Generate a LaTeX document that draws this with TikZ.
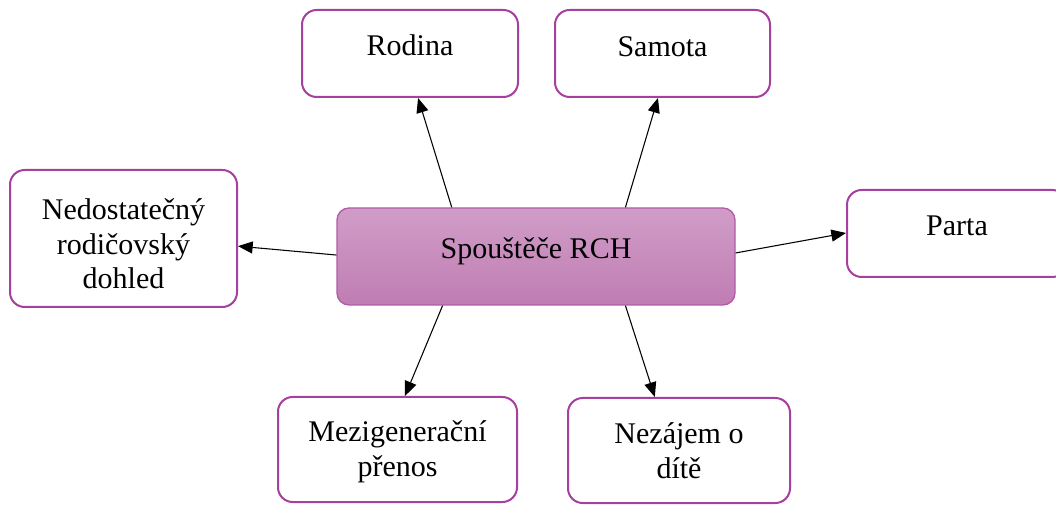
\documentclass[tikz,border=0pt]{standalone}
\usepackage{fontspec}
\setmainfont{Liberation Serif}
\usetikzlibrary{arrows.meta,calc}
\definecolor{boxborder}{HTML}{A5409F}
\definecolor{ctop}{HTML}{D09DC7}
\definecolor{cbot}{HTML}{C07DB3}
\definecolor{cborder}{HTML}{B25AA9}
\begin{document}
\begin{tikzpicture}[x=0.75pt,y=-0.75pt,
  sz/.style 2 args={minimum width=#1*0.75pt, minimum height=#2*0.75pt, inner sep=0pt},
  outerbox/.style={draw=boxborder, line width=1.5pt, rounded corners=11pt, fill=white},
  centerbox/.style={draw=cborder, line width=1pt, rounded corners=9pt, top color=ctop, bottom color=cbot},
  lbl/.style={font=\fontsize{22.5}{26}\selectfont, align=center, inner sep=0pt, text=black},
  conn/.style={line width=0.8pt, draw=black, -{Triangle[length=11pt,width=9pt]}}]
\useasboundingbox (0,0) rectangle (1056,505);
% boxes
\node[outerbox, sz={216}{87}] (rodina) at (410,53.5) {};
\node[outerbox, sz={215}{87}] (samota) at (662.5,53.5) {};
\node[outerbox, sz={227}{137}] (nedost) at (123.5,238.5) {};
\node[outerbox, sz={220}{87}] (parta) at (957,233.5) {};
\node[centerbox, sz={398}{97}] (spoustece) at (536,256.5) {};
\node[outerbox, sz={239}{105}] (mezi) at (397.5,449.5) {};
\node[outerbox, sz={222}{105}] (nezajem) at (679,450.5) {};
% texts
\node[lbl, anchor=base] (trodina) at (410,55.5) {Rodina};
\node[lbl, anchor=base] (tsamota) at (662.5,56.5) {Samota};
\node[lbl, anchor=base] (tparta) at (957,235.5) {Parta};
\node[lbl, anchor=base] (tspoustece) at (536,258.5) {Spouštěče RCH};
\node[lbl] (tnedost) at (123.5,244) {Nedostatečný\\rodičovský\\dohled};
\node[lbl] (tmezi) at (397.5,451.5) {Mezigenerační\\přenos};
\node[lbl] (tnezajem) at (679,450.5) {Nezájem o\\dítě};
% connectors
\draw[conn] ($(spoustece.north west)!0.289!(spoustece.north east)$) -- ($(rodina.south west)!0.537!(rodina.south east)$);
\draw[conn] ($(spoustece.north west)!0.724!(spoustece.north east)$) -- ($(samota.south west)!0.479!(samota.south east)$);
\draw[conn] ($(spoustece.north west)!0.485!(spoustece.south west)$) -- ($(nedost.north east)!0.555!(nedost.south east)$);
\draw[conn] ($(spoustece.north east)!0.464!(spoustece.south east)$) -- ($(parta.north west)!0.494!(parta.south west)$);
\draw[conn] ($(spoustece.south west)!0.266!(spoustece.south east)$) -- ($(mezi.north west)!0.531!(mezi.north east)$);
\draw[conn] ($(spoustece.south west)!0.724!(spoustece.south east)$) -- ($(nezajem.north west)!0.392!(nezajem.north east)$);
\end{tikzpicture}
\end{document}
